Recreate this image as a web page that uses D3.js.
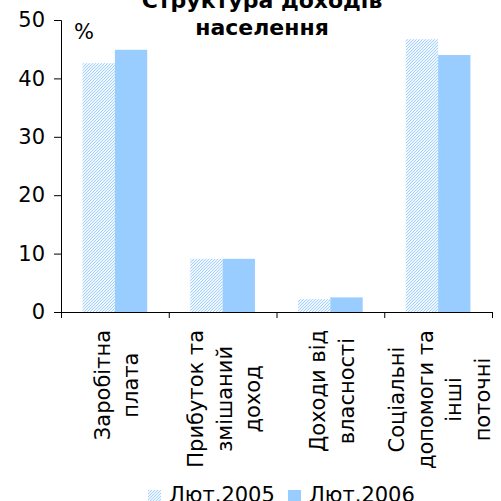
<!DOCTYPE html>
<html>
<head>
<meta charset="utf-8">
<script src="https://cdn.jsdelivr.net/npm/d3@7"></script>
<style>
  body { margin: 0; background: #fff; }
  svg { font-family: "DejaVu Sans", Verdana, sans-serif; }
</style>
</head>
<body>
<svg width="501" height="501"></svg>
<script>
const categories = [
    ['Заробітна', 'плата'],
    ['Прибуток та', 'змішаний', 'доход'],
    ['Доходи від', 'власності'],
    ['Соціальні', 'допомоги та', 'інші', 'поточні']
];
const series = ['Лют.2005', 'Лют.2006'];
const values2005 = [42.6, 9.1, 2.2, 46.7];
const values2006 = [44.9, 9.1, 2.5, 44.0];
const yTicks = [0, 10, 20, 30, 40, 50];

const svg = d3.select('svg');

// hatched fill for the first series
const defs = svg.append('defs');
const pat = defs.append('pattern')
    .attr('id', 'hatch')
    .attr('patternUnits', 'userSpaceOnUse')
    .attr('width', 3)
    .attr('height', 3);
pat.append('rect').attr('width', 3).attr('height', 3).attr('fill', '#eef6ff');
[[0, 2], [1, 1], [2, 0]].forEach(function (p) {
    pat.append('rect').attr('x', p[0]).attr('y', p[1]).attr('width', 1).attr('height', 1).attr('fill', '#a6d0ff');
});

const plotLeft = 61, plotRight = 492, plotTop = 20, plotBottom = 312;

const x = d3.scaleBand()
    .domain(d3.range(categories.length))
    .range([plotLeft, plotRight])
    .paddingInner(0.4)
    .paddingOuter(0.2);

const y = d3.scaleLinear().domain([0, 50]).range([plotBottom, plotTop]);

const bw = x.bandwidth() / 2;

// bars
let g = svg.append('g');
g.selectAll('rect.s1')
    .data(values2005)
    .enter()
    .append('rect')
    .attr('x', function (d, i) { return x(i); })
    .attr('y', function (d) { return y(d); })
    .attr('width', bw)
    .attr('height', function (d) { return plotBottom - y(d); })
    .attr('fill', 'url(#hatch)');
g.selectAll('rect.s2')
    .data(values2006)
    .enter()
    .append('rect')
    .attr('x', function (d, i) { return x(i) + bw; })
    .attr('y', function (d) { return y(d); })
    .attr('width', bw)
    .attr('height', function (d) { return plotBottom - y(d); })
    .attr('fill', '#99ccff');

// y axis
const yAxis = svg.append('g')
    .attr('transform', 'translate(' + plotLeft + ',0)')
    .call(d3.axisLeft(y).tickValues(yTicks).tickSize(7).tickPadding(9));
yAxis.selectAll('text').style('font-size', '21px').attr('fill', '#000').attr('font-family', 'DejaVu Sans');
yAxis.selectAll('line, path').attr('stroke', '#000');

// x axis with ticks between categories
const xEdge = d3.scaleLinear().domain([0, categories.length]).range([plotLeft, plotRight]);
const xAxis = svg.append('g')
    .attr('transform', 'translate(0,' + plotBottom + ')')
    .call(d3.axisBottom(xEdge).ticks(categories.length).tickSize(6).tickFormat(''));
xAxis.selectAll('line, path').attr('stroke', '#000');

// category labels, rotated, lines centred, longest line starts at y=330
const lineH = 28.5;
categories.forEach(function (lines, i) {
    const cx = x(i) + x.bandwidth() / 2 + 2;
    const t = svg.append('text')
        .attr('text-anchor', 'middle')
        .style('font-size', '21px');
    let maxLen = 0;
    lines.forEach(function (l, j) {
        const ts = t.append('tspan')
            .attr('x', 0)
            .attr('y', (j - (lines.length - 1) / 2) * lineH + 7)
            .text(l);
        maxLen = Math.max(maxLen, ts.node().getComputedTextLength());
    });
    t.attr('transform', 'translate(' + cx + ',' + (330 + maxLen / 2) + ') rotate(-90)');
});

// "%" label
svg.append('text')
    .attr('x', 74).attr('y', 39)
    .style('font-size', '21px')
    .text('%');

// title
const title = svg.append('text')
    .attr('text-anchor', 'middle')
    .style('font-size', '22px')
    .style('font-weight', 'bold');
title.append('tspan').attr('x', 262).attr('y', 8).text('Структура доходів');
title.append('tspan').attr('x', 262).attr('y', 35).text('населення');

// legend
const legend = svg.append('g');
const legendX = [148, 288];
series.forEach(function (s, i) {
    legend.append('rect')
        .attr('x', legendX[i]).attr('y', 490)
        .attr('width', 13).attr('height', 13)
        .attr('fill', i === 0 ? 'url(#hatch)' : '#99ccff');
    legend.append('text')
        .attr('x', legendX[i] + 21).attr('y', 502)
        .style('font-size', '21px')
        .text(s);
});
</script>
</body>
</html>
